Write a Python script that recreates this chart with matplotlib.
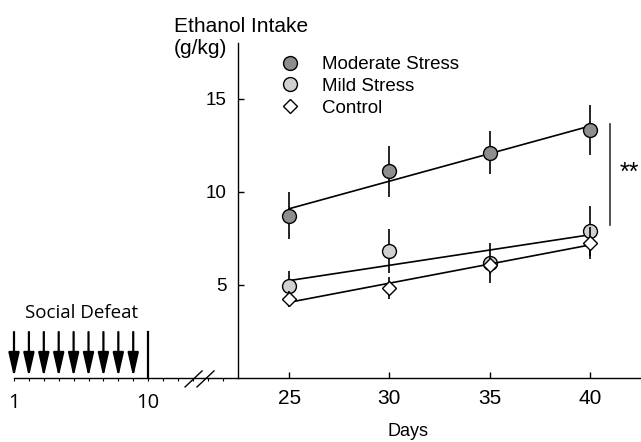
import numpy as np
import matplotlib.pyplot as plt
from matplotlib.lines import Line2D

plt.rcParams["font.family"] = ["Liberation Sans", "DejaVu Sans"]

# ethanol intake (g/kg), mean and error per test day
days = [25, 30, 35, 40]
moderate = [8.73, 11.1, 12.1, 13.33]
moderate_err = [1.25, 1.35, 1.15, 1.34]
mild = [4.95, 6.83, 6.18, 7.9]
mild_err = [0.8, 1.18, 1.07, 1.35]
control = [4.25, 4.84, 6.08, 7.26]
control_err = [0.45, 0.6, 0.5, 0.85]

# social defeat sessions (arrows) and last session marker
defeat_days = [1, 2, 3, 4, 5, 6, 7, 8, 9]
last_defeat = 10

W, H = 641, 442
fig = plt.figure(figsize=(W / 100, H / 100), dpi=100)

bottom = 64 / H
height = 335 / H
ax = fig.add_axes([238 / W, bottom, 402 / W, height])
axl = fig.add_axes([14 / W, bottom, 224 / W, height])

ax.set_xlim(22.45, 42.5)
ax.set_ylim(0, 18.0)
axl.set_xlim(1, 16.03)
axl.set_ylim(0, 18.0)

# main panel
groups = [
    (moderate, moderate_err, "o", "#8e8e8e", 10, "Moderate Stress"),
    (mild, mild_err, "o", "#d0d0d0", 10, "Mild Stress"),
    (control, control_err, "D", "white", 7.4, "Control"),
]
handles = []
for i, (vals, err, mk, col, ms, name) in enumerate(groups):
    ax.errorbar(days, vals, yerr=err, fmt="none", ecolor="black",
                elinewidth=1.2, capsize=0, zorder=2 + i * 3)
    slope, icpt = np.polyfit(days, vals, 1)
    xs = np.array([days[0], days[-1]])
    ax.plot(xs, slope * xs + icpt, color="black", lw=1.2, zorder=3 + i * 3)
    ax.plot(days, vals, linestyle="none", marker=mk, ms=ms, mfc=col,
            mec="black", mew=1.0, zorder=4 + i * 3)
    handles.append(Line2D([], [], linestyle="none", marker=mk, ms=ms,
                          mfc=col, mec="black", mew=1.0, label=name))

for s in ["top", "right"]:
    ax.spines[s].set_visible(False)
ax.spines["left"].set_linewidth(1.0)
ax.spines["bottom"].set_linewidth(1.0)
ax.set_xticks(days)
ax.set_yticks([5, 10, 15])
ax.tick_params(axis="x", direction="in", length=4, width=1, labelsize=15, pad=8)
ax.tick_params(axis="y", direction="in", length=4, width=1, labelsize=13.5, pad=8)
ax.patch.set_alpha(0)

# significance bar
ax.plot([41.0, 41.0], [8.2, 13.65], color="#333333", lw=1.2, clip_on=False)
ax.text(41.95, 11.0, "**", fontsize=18, ha="center", va="center", clip_on=False)

# left panel with defeat sessions
for s in ["top", "right", "left"]:
    axl.spines[s].set_visible(False)
axl.spines["bottom"].set_linewidth(1.0)
axl.set_yticks([])
axl.set_xticks(range(1, 16))
axl.set_xticklabels(["1" if d == 1 else "10" if d == 10 else "" for d in range(1, 16)],
                    fontfamily="Open Sans")
axl.tick_params(axis="x", direction="out", length=2, width=0.8, labelsize=14.5, pad=9)
axl.patch.set_alpha(0)

for d in defeat_days:
    axl.annotate("", xy=(d, 0.05), xytext=(d, 2.47),
                 arrowprops=dict(arrowstyle="-|>,head_length=1.45,head_width=0.33",
                                 color="black", lw=1.6, shrinkA=0, shrinkB=0))
axl.plot([last_defeat, last_defeat], [0, 2.47], color="black", lw=1.6)
axl.text(5.55, 3.5, "Social Defeat", fontsize=13.5, fontfamily="Open Sans",
         ha="center", va="center")

# axis break marks
axl.plot([12.48, 13.62], [-0.48, 0.38], color="black", lw=1.0, clip_on=False)
axl.plot([13.28, 14.42], [-0.48, 0.38], color="black", lw=1.0, clip_on=False)

fig.legend(handles=handles, loc="upper left", bbox_to_anchor=(281 / W, 1 - 56 / H),
           frameon=False, fontsize=13.5, handlelength=1.0, handletextpad=1.2,
           borderpad=0, borderaxespad=0, labelspacing=0.25)

fig.text(174 / W, 1 - 32 / H, "Ethanol Intake", fontsize=15, ha="left", va="baseline")
fig.text(174 / W, 1 - 54 / H, "(g/kg)", fontsize=15, ha="left", va="baseline")
fig.text(408 / W, 1 - 436 / H, "Days", fontsize=13, ha="center", va="baseline")

fig.savefig("out.png", dpi=100)
